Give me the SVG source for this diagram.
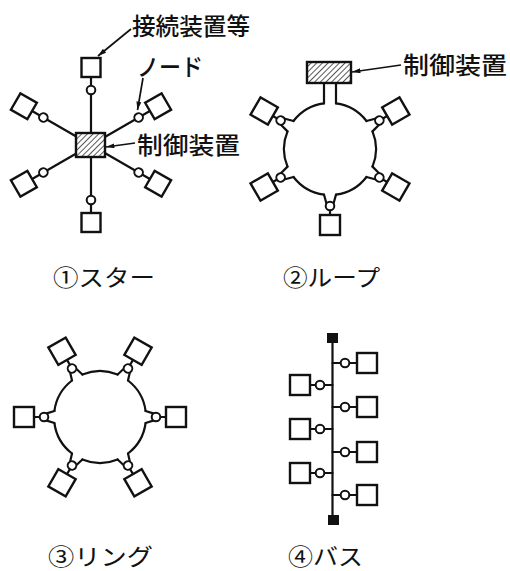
<svg xmlns="http://www.w3.org/2000/svg" xmlns:xlink="http://www.w3.org/1999/xlink" width="510" height="571" viewBox="0 0 510 571">
  <style>
    .ln { fill: none; stroke: #111; stroke-width: 2.2; stroke-linecap: round; stroke-linejoin: round; }
    .arr { fill: none; stroke: #111; stroke-width: 1.7; }
    .sq { fill: #fff; stroke: #111; stroke-width: 2.4; }
    .nd { fill: #fff; stroke: #111; stroke-width: 2; }
    .ctl { fill: url(#hatch); stroke: #111; stroke-width: 2.4; }
    .term { fill: #111; }
    text { font-family: "Noto Sans CJK JP", "Noto Sans CJK SC", sans-serif; fill: #111; }
    .lbl { font-size: 24px; font-weight: 500; }
    .cap { font-size: 23px; font-weight: 400; }
  </style>
  <defs>
    <pattern id="hatch" width="4" height="4" patternUnits="userSpaceOnUse" patternTransform="rotate(45)">
      <rect width="4" height="4" fill="#fff"/>
      <line x1="0" y1="0" x2="0" y2="4" stroke="#111" stroke-width="1.4"/>
    </pattern>
    <marker id="ah" viewBox="0 0 10 6" refX="10" refY="3" markerWidth="9" markerHeight="5" orient="auto" markerUnits="userSpaceOnUse">
      <path d="M0,0 L10,3 L0,6 z" fill="#111"/>
    </marker>
  </defs>
  <rect width="510" height="571" fill="#fff"/>

  <!-- connectors -->
  <g id="connectors">
    <!-- star arms: hub to tap, tap to device -->
    <g transform="translate(91,145)">
      <path class="ln" transform="rotate(-90)" d="M0,0 H51 M59,0 H68"/>
      <path class="ln" transform="rotate(-30)" d="M0,0 H51 M59,0 H68"/>
      <path class="ln" transform="rotate(30)" d="M0,0 H51 M59,0 H68"/>
      <path class="ln" transform="rotate(90)" d="M0,0 H51 M59,0 H68"/>
      <path class="ln" transform="rotate(150)" d="M0,0 H51 M59,0 H68"/>
      <path class="ln" transform="rotate(210)" d="M0,0 H51 M59,0 H68"/>
    </g>

    <!-- loop: ring arcs between taps, and the two feeders to the controller -->
    <path class="ln" d="M336,103.4 A46,46 0 0 1 366.5,121 M372.5,131.4 A46,46 0 0 1 372.5,166.6 M366.5,177 A46,46 0 0 1 336,194.6 M324,194.6 A46,46 0 0 1 293.5,177 M287.5,166.6 A46,46 0 0 1 287.5,131.4 M293.5,121 A46,46 0 0 1 324,103.4"/>
    <path class="ln" d="M324,103.4 V83 M336,103.4 V83"/>
    <g transform="translate(330,149)">
      <path class="ln" transform="rotate(-30)" d="M45.6,-6 L55,-3.4 M45.6,6 L55,3.4 M61,0 H66"/>
      <path class="ln" transform="rotate(30)" d="M45.6,-6 L55,-3.4 M45.6,6 L55,3.4 M61,0 H66"/>
      <path class="ln" transform="rotate(90)" d="M45.6,-6 L55,-3.4 M45.6,6 L55,3.4 M61,0 H66"/>
      <path class="ln" transform="rotate(150)" d="M45.6,-6 L55,-3.4 M45.6,6 L55,3.4 M61,0 H66"/>
      <path class="ln" transform="rotate(210)" d="M45.6,-6 L55,-3.4 M45.6,6 L55,3.4 M61,0 H66"/>
    </g>

    <!-- ring: arcs between taps -->
    <path class="ln" d="M145.6,423 A46,46 0 0 1 128,453.5 M117.6,459.5 A46,46 0 0 1 82.4,459.5 M72,453.5 A46,46 0 0 1 54.4,423 M54.4,411 A46,46 0 0 1 72,380.5 M82.4,374.5 A46,46 0 0 1 117.6,374.5 M128,380.5 A46,46 0 0 1 145.6,411"/>
    <g transform="translate(100,417)">
      <path class="ln" transform="rotate(0)" d="M45.6,-6 L54,-3.4 M45.6,6 L54,3.4 M60,0 H66"/>
      <path class="ln" transform="rotate(60)" d="M45.6,-6 L54,-3.4 M45.6,6 L54,3.4 M60,0 H66"/>
      <path class="ln" transform="rotate(120)" d="M45.6,-6 L54,-3.4 M45.6,6 L54,3.4 M60,0 H66"/>
      <path class="ln" transform="rotate(180)" d="M45.6,-6 L54,-3.4 M45.6,6 L54,3.4 M60,0 H66"/>
      <path class="ln" transform="rotate(240)" d="M45.6,-6 L54,-3.4 M45.6,6 L54,3.4 M60,0 H66"/>
      <path class="ln" transform="rotate(300)" d="M45.6,-6 L54,-3.4 M45.6,6 L54,3.4 M60,0 H66"/>
    </g>

    <!-- bus trunk and drops -->
    <path class="ln" d="M332.5,338 V520"/>
    <path class="ln" d="M332.5,363 H341 M349,363 H357 M332.5,407 H341 M349,407 H357 M332.5,452 H341 M349,452 H357 M332.5,495 H341 M349,495 H357"/>
    <path class="ln" d="M332.5,385 H324 M316,385 H310 M332.5,429 H324 M316,429 H310 M332.5,473 H324 M316,473 H310"/>

    <!-- label leaders -->
    <path class="arr" d="M131,29 L98,56" marker-end="url(#ah)"/>
    <path class="arr" d="M143,78 L137.5,110" marker-end="url(#ah)"/>
    <path class="arr" d="M135,143 L106,147" marker-end="url(#ah)"/>
    <path class="arr" d="M401,65 L352,72" marker-end="url(#ah)"/>
  </g>

  <!-- star -->
  <g id="star-hub"><rect class="ctl" x="76" y="133" width="29" height="24"/></g>
  <g id="star-n1" transform="translate(91,145) rotate(-90)"><circle class="nd" cx="55" cy="0" r="4.3"/><rect class="sq" x="68" y="-9.5" width="19" height="19"/></g>
  <g id="star-n2" transform="translate(91,145) rotate(-30)"><circle class="nd" cx="55" cy="0" r="4.3"/><rect class="sq" x="68" y="-9.5" width="19" height="19"/></g>
  <g id="star-n3" transform="translate(91,145) rotate(30)"><circle class="nd" cx="55" cy="0" r="4.3"/><rect class="sq" x="68" y="-9.5" width="19" height="19"/></g>
  <g id="star-n4" transform="translate(91,145) rotate(90)"><circle class="nd" cx="55" cy="0" r="4.3"/><rect class="sq" x="68" y="-9.5" width="19" height="19"/></g>
  <g id="star-n5" transform="translate(91,145) rotate(150)"><circle class="nd" cx="55" cy="0" r="4.3"/><rect class="sq" x="68" y="-9.5" width="19" height="19"/></g>
  <g id="star-n6" transform="translate(91,145) rotate(210)"><circle class="nd" cx="55" cy="0" r="4.3"/><rect class="sq" x="68" y="-9.5" width="19" height="19"/></g>
  <g id="star-labels">
    <text class="lbl" x="132" y="35" textLength="118" lengthAdjust="spacingAndGlyphs">接続装置等</text>
    <text class="lbl" x="137" y="76" textLength="66" lengthAdjust="spacingAndGlyphs">ノード</text>
    <text class="lbl" x="137" y="154" textLength="103" lengthAdjust="spacingAndGlyphs">制御装置</text>
    <text class="cap" x="53" y="286" textLength="102" lengthAdjust="spacingAndGlyphs">①スター</text>
  </g>

  <!-- loop -->
  <g id="loop-ctl"><rect class="ctl" x="307" y="62" width="44" height="21"/></g>
  <g id="loop-n1" transform="translate(330,149) rotate(-30)"><circle class="nd" cx="57" cy="0" r="4.3"/><rect class="sq" x="66" y="-10" width="20" height="20"/></g>
  <g id="loop-n2" transform="translate(330,149) rotate(30)"><circle class="nd" cx="57" cy="0" r="4.3"/><rect class="sq" x="66" y="-10" width="20" height="20"/></g>
  <g id="loop-n3" transform="translate(330,149) rotate(90)"><circle class="nd" cx="57" cy="0" r="4.3"/><rect class="sq" x="66" y="-10" width="20" height="20"/></g>
  <g id="loop-n4" transform="translate(330,149) rotate(150)"><circle class="nd" cx="57" cy="0" r="4.3"/><rect class="sq" x="66" y="-10" width="20" height="20"/></g>
  <g id="loop-n5" transform="translate(330,149) rotate(210)"><circle class="nd" cx="57" cy="0" r="4.3"/><rect class="sq" x="66" y="-10" width="20" height="20"/></g>
  <g id="loop-labels">
    <text class="lbl" x="403" y="74" textLength="104" lengthAdjust="spacingAndGlyphs">制御装置</text>
    <text class="cap" x="283" y="286" textLength="97" lengthAdjust="spacingAndGlyphs">②ループ</text>
  </g>

  <!-- ring -->
  <g id="ring-n1" transform="translate(100,417) rotate(0)"><circle class="nd" cx="56" cy="0" r="4.3"/><rect class="sq" x="66" y="-10" width="20" height="20"/></g>
  <g id="ring-n2" transform="translate(100,417) rotate(60)"><circle class="nd" cx="56" cy="0" r="4.3"/><rect class="sq" x="66" y="-10" width="20" height="20"/></g>
  <g id="ring-n3" transform="translate(100,417) rotate(120)"><circle class="nd" cx="56" cy="0" r="4.3"/><rect class="sq" x="66" y="-10" width="20" height="20"/></g>
  <g id="ring-n4" transform="translate(100,417) rotate(180)"><circle class="nd" cx="56" cy="0" r="4.3"/><rect class="sq" x="66" y="-10" width="20" height="20"/></g>
  <g id="ring-n5" transform="translate(100,417) rotate(240)"><circle class="nd" cx="56" cy="0" r="4.3"/><rect class="sq" x="66" y="-10" width="20" height="20"/></g>
  <g id="ring-n6" transform="translate(100,417) rotate(300)"><circle class="nd" cx="56" cy="0" r="4.3"/><rect class="sq" x="66" y="-10" width="20" height="20"/></g>
  <g id="ring-labels">
    <text class="cap" x="48" y="565" textLength="105" lengthAdjust="spacingAndGlyphs">③リング</text>
  </g>

  <!-- bus -->
  <g id="bus-term-top"><rect class="term" x="327" y="333" width="11" height="10"/></g>
  <g id="bus-term-bottom"><rect class="term" x="328" y="515" width="11" height="10"/></g>
  <g id="bus-r1"><circle class="nd" cx="345" cy="363" r="4.3"/><rect class="sq" x="357" y="353" width="20" height="20"/></g>
  <g id="bus-r2"><circle class="nd" cx="345" cy="407" r="4.3"/><rect class="sq" x="357" y="397" width="20" height="20"/></g>
  <g id="bus-r3"><circle class="nd" cx="345" cy="452" r="4.3"/><rect class="sq" x="357" y="442" width="20" height="20"/></g>
  <g id="bus-r4"><circle class="nd" cx="345" cy="495" r="4.3"/><rect class="sq" x="357" y="485" width="20" height="20"/></g>
  <g id="bus-l1"><circle class="nd" cx="320" cy="385" r="4.3"/><rect class="sq" x="290" y="375" width="20" height="20"/></g>
  <g id="bus-l2"><circle class="nd" cx="320" cy="429" r="4.3"/><rect class="sq" x="290" y="419" width="20" height="20"/></g>
  <g id="bus-l3"><circle class="nd" cx="320" cy="473" r="4.3"/><rect class="sq" x="290" y="463" width="20" height="20"/></g>
  <g id="bus-labels">
    <text class="cap" x="288" y="565" textLength="75" lengthAdjust="spacingAndGlyphs">④バス</text>
  </g>
</svg>
